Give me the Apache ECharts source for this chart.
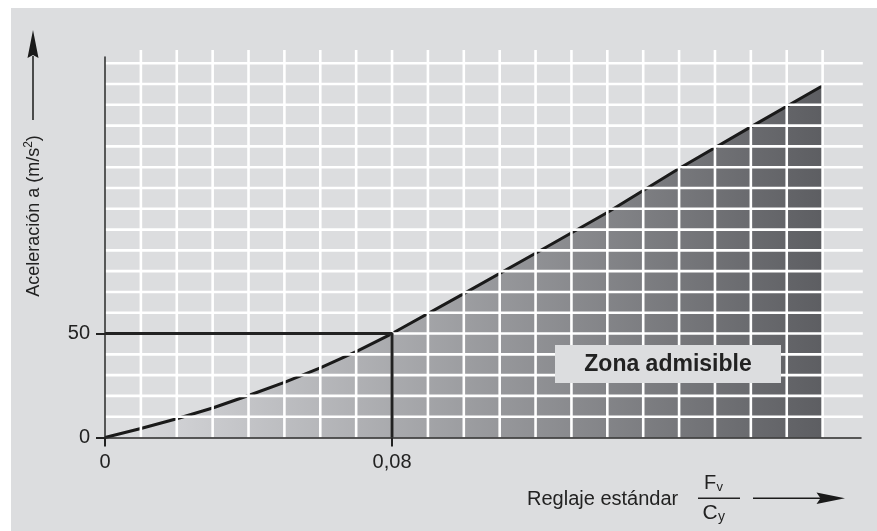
<!DOCTYPE html>
<html>
<head>
<meta charset="utf-8">
<script src="https://cdn.jsdelivr.net/npm/echarts@6/dist/echarts.min.js"></script>
<style>html,body{margin:0;padding:0;background:#fff}#c{width:877px;height:531px}</style>
</head>
<body>
<div id="c"></div>
<script>
// ---- data ----
const xValues = [0, 0.01, 0.02, 0.03, 0.04, 0.05, 0.06, 0.07, 0.08, 0.10, 0.12, 0.14, 0.16, 0.18, 0.20];
const accel   = [0, 4.3, 9.0, 14.2, 20.2, 26.5, 33.5, 41.3, 50, 69.2, 88.6, 108.2, 129.4, 149.4, 169.2];
const refPoint = [0.08, 50];
const xTickValues = [0, 0.08];
const xTickLabels = ['0', '0,08'];
const yTickValues = [0, 50];
const yTickLabels = ['0', '50'];
const xGridLines = [0.01,0.02,0.03,0.04,0.05,0.06,0.07,0.08,0.09,0.10,0.11,0.12,0.13,0.14,0.15,0.16,0.17,0.18,0.19,0.20];
const yGridLines = [10,20,30,40,50,60,70,80,90,100,110,120,130,140,150,160,170,180];

const FONT = '"Liberation Sans", Arial, Helvetica, sans-serif';
const X_MAX = 0.2107, Y_MAX = 183;       // axis extents
const V_TOP = 186.4, H_RIGHT = 0.2112;   // how far the grid lines run

const chart = echarts.init(document.getElementById('c'), null, {renderer: 'canvas'});

function gridLine(isVertical) {
  return function (params, api) {
    const v = api.value(0);
    const p1 = isVertical ? api.coord([v, 0]) : api.coord([0, v]);
    const p2 = isVertical ? api.coord([v, V_TOP]) : api.coord([H_RIGHT, v]);
    return {
      type: 'line',
      shape: {x1: p1[0], y1: p1[1], x2: p2[0], y2: p2[1]},
      style: {stroke: '#ffffff', lineWidth: 2.6}
    };
  };
}

const option = {
  backgroundColor: '#ffffff',
  animation: false,
  grid: {left: 105, right: 16, top: 57, bottom: 93.5, containLabel: false},
  xAxis: {
    type: 'value', min: 0, max: X_MAX, z: 6,
    axisLine: {show: true, lineStyle: {color: '#2a2a2a', width: 1.5}},
    axisTick: {show: true, length: 9, customValues: xTickValues, lineStyle: {color: '#222', width: 2}},
    axisLabel: {
      show: true, customValues: xTickValues, margin: 15,
      fontFamily: FONT, fontSize: 20, color: '#222',
      formatter: v => xTickLabels[xTickValues.indexOf(v)] ?? ''
    },
    splitLine: {show: false}
  },
  yAxis: {
    type: 'value', min: 0, max: Y_MAX, z: 6,
    axisLine: {show: true, lineStyle: {color: '#2a2a2a', width: 1.5}},
    axisTick: {show: true, length: 9, customValues: yTickValues, lineStyle: {color: '#222', width: 2}},
    axisLabel: {
      show: true, customValues: yTickValues, margin: 15,
      fontFamily: FONT, fontSize: 20, color: '#222',
      formatter: v => yTickLabels[yTickValues.indexOf(v)] ?? ''
    },
    splitLine: {show: false}
  },
  series: [
    {
      type: 'line', z: 2,
      data: xValues.map((x, i) => [x, accel[i]]),
      symbol: 'none',
      lineStyle: {color: '#1a1a1a', width: 3},
      areaStyle: {
        opacity: 1,
        color: new echarts.graphic.LinearGradient(0, 0, 1, 0, [
          {offset: 0, color: '#dcdde0'},
          {offset: 1, color: '#5d5e62'}
        ])
      }
    },
    {
      type: 'custom', z: 3, clip: false,
      data: xGridLines.map(v => [v]),
      renderItem: gridLine(true)
    },
    {
      type: 'custom', z: 3, clip: false,
      data: yGridLines.map(v => [v]),
      renderItem: gridLine(false)
    },
    {
      type: 'line', z: 4, symbol: 'none',
      data: [[0, refPoint[1]], refPoint, [refPoint[0], 0]],
      lineStyle: {color: '#222', width: 3}
    }
  ],
  graphic: {
    elements: [
      {type: 'rect', z: -100, silent: true, shape: {x: 11, y: 8, width: 866, height: 523}, style: {fill: '#dcdddf'}},
      // y axis name + arrow
      {type: 'text', z: 10, x: 34, y: 216, rotation: Math.PI / 2,
        style: {
          text: '{a|Aceleración a (m/s}{s|2}{a|)}',
          align: 'center', verticalAlign: 'middle',
          rich: {
            a: {fontSize: 18, fontFamily: FONT, fill: '#222', color: '#222', lineHeight: 22},
            s: {fontSize: 12, fontFamily: FONT, fill: '#222', color: '#222', verticalAlign: 'top', lineHeight: 22}
          }
        }},
      {type: 'line', z: 10, shape: {x1: 33, y1: 56, x2: 33, y2: 120}, style: {stroke: '#1a1a1a', lineWidth: 1.5}},
      {type: 'polygon', z: 10, shape: {points: [[33, 30], [38.5, 58], [33, 55], [27.5, 58]]}, style: {fill: '#1a1a1a'}},
      // x axis name, fraction, arrow
      {type: 'text', z: 10, x: 527, y: 499.5,
        style: {text: 'Reglaje estándar', font: '20px ' + FONT, fill: '#222', align: 'left', verticalAlign: 'middle'}},
      {type: 'text', z: 10, x: 704, y: 483.5,
        style: {text: 'F', font: '20px ' + FONT, fill: '#222', align: 'left', verticalAlign: 'middle'}},
      {type: 'text', z: 10, x: 716.5, y: 487,
        style: {text: 'v', font: '13px ' + FONT, fill: '#222', align: 'left', verticalAlign: 'middle'}},
      {type: 'line', z: 10, shape: {x1: 698, y1: 498.3, x2: 740, y2: 498.3}, style: {stroke: '#222', lineWidth: 1.5}},
      {type: 'text', z: 10, x: 702.5, y: 513.5,
        style: {text: 'C', font: '21px ' + FONT, fill: '#222', align: 'left', verticalAlign: 'middle'}},
      {type: 'text', z: 10, x: 718, y: 517,
        style: {text: 'y', font: '14px ' + FONT, fill: '#222', align: 'left', verticalAlign: 'middle'}},
      {type: 'line', z: 10, shape: {x1: 753, y1: 498.3, x2: 822, y2: 498.3}, style: {stroke: '#1a1a1a', lineWidth: 1.5}},
      {type: 'polygon', z: 10, shape: {points: [[845, 498.3], [816.5, 492.5], [820.5, 498.3], [816.5, 504.1]]}, style: {fill: '#1a1a1a'}},
      // annotation
      {type: 'rect', z: 10, shape: {x: 555, y: 345, width: 226, height: 38}, style: {fill: '#dcdddf'}},
      {type: 'text', z: 11, x: 668, y: 364.5,
        style: {text: 'Zona admisible', font: 'bold 23px ' + FONT, fill: '#222', align: 'center', verticalAlign: 'middle'}}
    ]
  }
};
chart.setOption(option);
</script>
</body>
</html>
